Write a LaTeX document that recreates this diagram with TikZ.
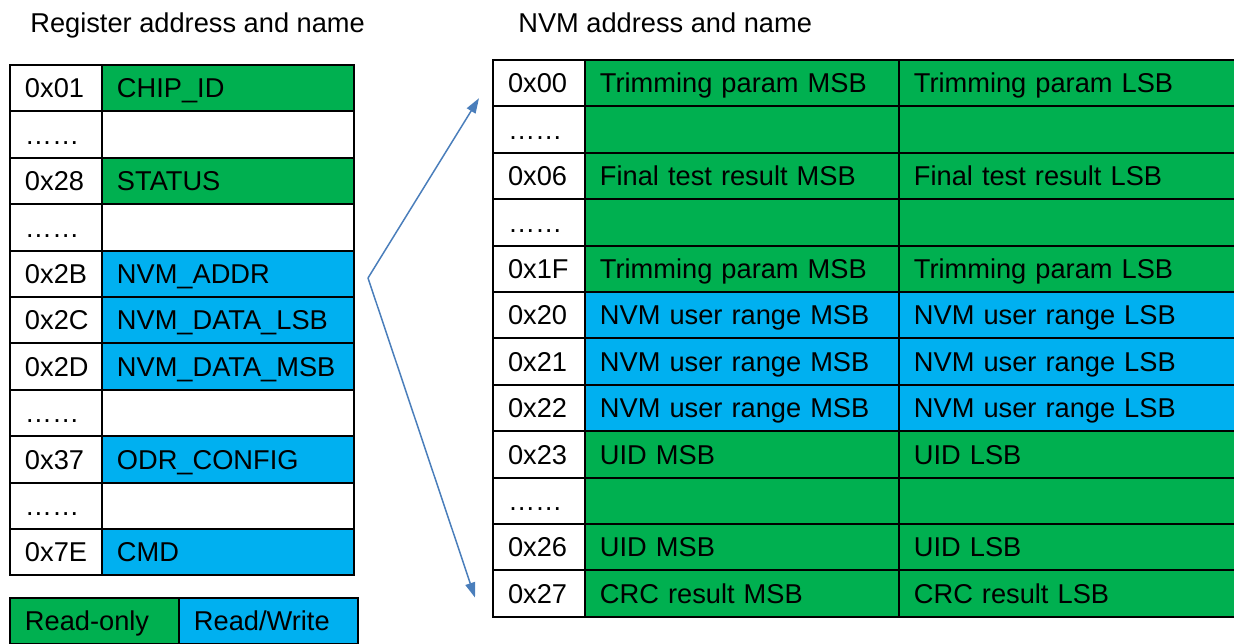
\documentclass[tikz,border=0pt]{standalone}
\usepackage{fontspec}
\setmainfont{Liberation Sans}
\usepackage{tikz}
\usetikzlibrary{arrows.meta,positioning,calc}
\definecolor{roGreen}{HTML}{00B050}
\definecolor{rwBlue}{HTML}{00B0F0}
\definecolor{linkBlue}{HTML}{4A7EBB}
\newcommand{\regfont}{\fontsize{15.5pt}{18pt}\selectfont}

\begin{document}
\begin{tikzpicture}[x=0.02cm,y=-0.02cm,
    cell/.style={draw=black,line width=1.1pt,outer sep=0pt,inner xsep=0.3cm,inner ysep=0pt,
      minimum height=0.928cm,text height=13pt,text depth=1.9pt,align=left,font=\regfont},
    addrcell/.style={cell,text width=1.24cm},
    link/.style={linkBlue,line width=0.85pt,-{Triangle[length=0.3cm,width=0.2cm]}}]
  \useasboundingbox (0,0) rectangle (1234,643);
  \clip (0,0) rectangle (1234,643);

  % headings
  \node[anchor=base west,inner sep=0pt,font=\regfont] (regtitle) at (30,32) {Register address and name};
  \node[anchor=base west,inner sep=0pt,font=\regfont] (nvmtitle) at (518,32) {NVM address and name};

  % register map
  \foreach \a/\n/\c [count=\i] in {0x01/CHIP\_ID/roGreen, ……/{}/white, 0x28/STATUS/roGreen,
      ……/{}/white, 0x2B/NVM\_ADDR/rwBlue, 0x2C/NVM\_DATA\_LSB/rwBlue, 0x2D/NVM\_DATA\_MSB/rwBlue,
      ……/{}/white, 0x37/ODR\_CONFIG/rwBlue, ……/{}/white, 0x7E/CMD/rwBlue} {
    \node[addrcell,anchor=north west] (regA\i) at (10,{65+(\i-1)*46.4}) {\a};
    \node[cell,fill=\c,text width=4.44cm,right=0pt of regA\i] (regN\i) {\n};
  }

  % NVM map
  \foreach \a/\m/\l/\c [count=\i] in {0x00/Trimming param MSB/Trimming param LSB/roGreen,
      ……/{}/{}/roGreen, 0x06/Final test result MSB/Final test result LSB/roGreen,
      ……/{}/{}/roGreen, 0x1F/Trimming param MSB/Trimming param LSB/roGreen,
      0x20/NVM user range MSB/NVM user range LSB/rwBlue, 0x21/NVM user range MSB/NVM user range LSB/rwBlue,
      0x22/NVM user range MSB/NVM user range LSB/rwBlue, 0x23/UID MSB/UID LSB/roGreen,
      ……/{}/{}/roGreen, 0x26/UID MSB/UID LSB/roGreen, 0x27/CRC result MSB/CRC result LSB/roGreen} {
    \node[addrcell,anchor=north west] (nvmA\i) at (493,{60+(\i-1)*46.4}) {\a};
    \node[cell,fill=\c,text width=5.68cm,right=0pt of nvmA\i] (nvmM\i) {\m};
    \node[cell,fill=\c,text width=6.3cm,right=0pt of nvmM\i] (nvmL\i) {\l};
  }

  % legend
  \node[cell,fill=roGreen,text width=2.78cm,anchor=north west] (roKey) at (10,598) {Read-only};
  \node[cell,fill=rwBlue,text width=2.99cm,right=0pt of roKey] (rwKey) {Read/Write};

  % NVM_ADDR points into the whole NVM range
  \coordinate (fork) at (368,278);
  \draw[link] (fork) -- ([xshift=-0.28cm,yshift=-0.3cm]nvmA1.west);
  \draw[link] (fork) -- ([xshift=-0.36cm,yshift=-0.08cm]nvmA12.west);
\end{tikzpicture}
\end{document}
